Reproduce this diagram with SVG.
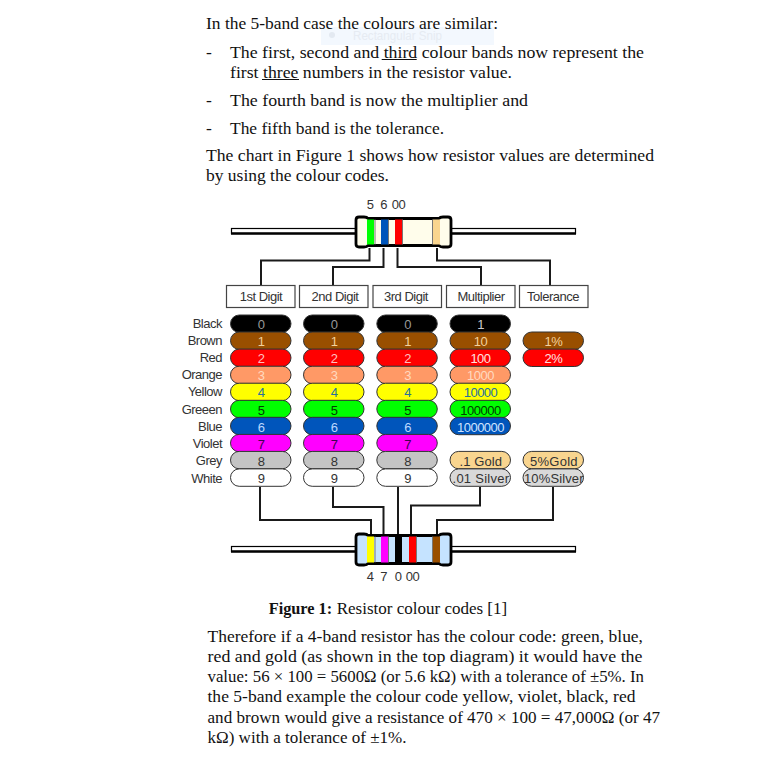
<svg xmlns="http://www.w3.org/2000/svg" width="772" height="768" viewBox="0 0 772 768">
<style>
.b{font-family:"Liberation Serif","DejaVu Serif",serif;font-size:17.5px;fill:#111}
.s{font-family:"Liberation Sans",Arial,sans-serif;font-size:13px;letter-spacing:-.5px;fill:#333}
.m{text-anchor:middle}
.e{text-anchor:end}
.p{stroke:#333;stroke-width:1}
.c{fill:none;stroke:#1a1a1a;stroke-width:2}
.h{fill:#fff;stroke:#444;stroke-width:1.2}
.l{fill:#fff;stroke:#000;stroke-width:1.2}
.bd{stroke:#000;stroke-width:2.8;stroke-linejoin:round}
.u{stroke:#111;stroke-width:1}
.g{stroke:#777;stroke-width:1}
</style>
<rect width="772" height="768" fill="#fff"/>
<g id="snip-overlay">
<rect x="321" y="27" width="173" height="18" fill="#f3f8fe"/>
<circle cx="332" cy="35" r="3" fill="#e3e9f1"/>
<text x="353" y="40" font-family="Liberation Sans,sans-serif" font-size="12" fill="#e6ebf2" textLength="89" lengthAdjust="spacingAndGlyphs">Rectangular Snip</text>
</g>
<g id="top-text">
<text class="b" x="206" y="29" textLength="292" lengthAdjust="spacingAndGlyphs">In the 5-band case the colours are similar:</text>
<text class="b" x="206" y="57.5">-</text>
<text class="b" x="230" y="57.5" textLength="414" lengthAdjust="spacingAndGlyphs">The first, second and third colour bands now represent the</text>
<line class="u" x1="381.7" y1="59.5" x2="416.7" y2="59.5"/>
<text class="b" x="230" y="77.5" textLength="282" lengthAdjust="spacingAndGlyphs">first three numbers in the resistor value.</text>
<line class="u" x1="262" y1="79.5" x2="299" y2="79.5"/>
<text class="b" x="206" y="105.5">-</text>
<text class="b" x="230" y="105.5" textLength="298" lengthAdjust="spacingAndGlyphs">The fourth band is now the multiplier and</text>
<text class="b" x="206" y="133.5">-</text>
<text class="b" x="230" y="133.5" textLength="214" lengthAdjust="spacingAndGlyphs">The fifth band is the tolerance.</text>
<text class="b" x="206" y="160.5" textLength="448" lengthAdjust="spacingAndGlyphs">The chart in Figure 1 shows how resistor values are determined</text>
<text class="b" x="206" y="180.5" textLength="183" lengthAdjust="spacingAndGlyphs">by using the colour codes.</text>
</g>
<g id="connectors">
<path class="c" d="M369.5 248V260.5H261V285"/>
<path class="c" d="M383.5 248V267H333V285"/>
<path class="c" d="M397.5 248V267H481V285"/>
<path class="c" d="M437 248V260.5H550V285"/>
<path class="c" d="M260 487V520H371V534"/>
<path class="c" d="M333 487V507H383.5V534"/>
<path class="c" d="M398 487V534"/>
<path class="c" d="M480 487V505.5H411V534"/>
<path class="c" d="M553 487V520H437V534"/>
</g>
<g id="resistor-top">
<rect class="l" x="231.5" y="228.5" width="344" height="5"/>
<line x1="231" y1="233.5" x2="576" y2="233.5" stroke="#000" stroke-width="2.4"/>
<path class="bd" fill="#fffdeb" d="M359 217H364Q367 217 368 218.5H439Q440 217 443 217H448Q451 217 451 220V244Q451 247 448 247H443Q440 247 439 245.5H368Q367 247 364 247H359Q356 247 356 244V220Q356 217 359 217Z"/>
<rect x="367" y="219.5" width="7" height="25" fill="#0f0"/><line class="g" x1="375" y1="219.5" x2="375" y2="244.5"/>
<rect x="381" y="219.5" width="7" height="25" fill="#0055bb"/><line class="g" x1="388.5" y1="219.5" x2="388.5" y2="244.5"/>
<rect x="395" y="219.5" width="7" height="25" fill="#f00"/><line class="g" x1="402.5" y1="219.5" x2="402.5" y2="244.5"/>
<rect x="433" y="219.5" width="7" height="25" fill="#f9d58f"/><line class="g" x1="432.5" y1="219.5" x2="432.5" y2="244.5"/>
<text class="s m" x="370" y="209">5</text><text class="s m" x="383.5" y="209">6</text><text class="s m" x="398.5" y="209">00</text>
</g>
<g id="header-1st"><rect class="h" x="226.5" y="285.5" width="68.5" height="22"/><text class="s m" x="261" y="300.7">1st Digit</text></g>
<g id="header-2nd"><rect class="h" x="299.5" y="285.5" width="68.5" height="22"/><text class="s m" x="335" y="300.7">2nd Digit</text></g>
<g id="header-3rd"><rect class="h" x="373" y="285.5" width="68.5" height="22"/><text class="s m" x="406" y="300.7">3rd Digit</text></g>
<g id="header-multiplier"><rect class="h" x="446.5" y="285.5" width="68.5" height="22"/><text class="s m" x="481" y="300.7">Multiplier</text></g>
<g id="header-tolerance"><rect class="h" x="519.5" y="285.5" width="68.5" height="22"/><text class="s m" x="553" y="300.7">Tolerance</text></g>
<g id="row-labels">
<text class="s e" x="222" y="327.5">Black</text>
<text class="s e" x="222" y="344.5">Brown</text>
<text class="s e" x="222" y="362">Red</text>
<text class="s e" x="222" y="379">Orange</text>
<text class="s e" x="222" y="396">Yellow</text>
<text class="s e" x="222" y="413.5">Greeen</text>
<text class="s e" x="222" y="430.5">Blue</text>
<text class="s e" x="222" y="448">Violet</text>
<text class="s e" x="222" y="465">Grey</text>
<text class="s e" x="222" y="482.5">White</text>
</g>
<defs>
<rect id="pill" width="60.5" height="17.4" rx="8.7" class="p"/>
</defs>
<g id="col-1st">
<use href="#pill" x="230.5" y="315" fill="#000"/><text class="s m" x="261" y="328.7" style="fill:#999">0</text>
<use href="#pill" x="230.5" y="332" fill="#994f00"/><text class="s m" x="261" y="345.7" style="fill:#f3d29c">1</text>
<use href="#pill" x="230.5" y="349.1" fill="#f00"/><text class="s m" x="261" y="362.8" style="fill:#ffc0c0">2</text>
<use href="#pill" x="230.5" y="366.2" fill="#f96"/><text class="s m" x="261" y="379.9" style="fill:#ffd9c0">3</text>
<use href="#pill" x="230.5" y="383.2" fill="#ff0"/><text class="s m" x="261" y="397" style="fill:#26709f">4</text>
<use href="#pill" x="230.5" y="400.3" fill="#0f0"/><text class="s m" x="261" y="414.5" style="fill:#004000">5</text>
<use href="#pill" x="230.5" y="417.3" fill="#0055bb"/><text class="s m" x="261" y="431.5" style="fill:#bcd8ff">6</text>
<use href="#pill" x="230.5" y="434.4" fill="#f0f"/><text class="s m" x="261" y="448.6" style="fill:#400050">7</text>
<use href="#pill" x="230.5" y="451.4" fill="#c4c4c4"/><text class="s m" x="261" y="465.6" style="fill:#333">8</text>
<use href="#pill" x="230.5" y="468.9" fill="#fff"/><text class="s m" x="261" y="483" style="fill:#333">9</text>
</g>
<g id="col-2nd">
<use href="#pill" x="303.5" y="315" fill="#000"/><text class="s m" x="334" y="328.7" style="fill:#999">0</text>
<use href="#pill" x="303.5" y="332" fill="#994f00"/><text class="s m" x="334" y="345.7" style="fill:#f3d29c">1</text>
<use href="#pill" x="303.5" y="349.1" fill="#f00"/><text class="s m" x="334" y="362.8" style="fill:#ffc0c0">2</text>
<use href="#pill" x="303.5" y="366.2" fill="#f96"/><text class="s m" x="334" y="379.9" style="fill:#ffd9c0">3</text>
<use href="#pill" x="303.5" y="383.2" fill="#ff0"/><text class="s m" x="334" y="397" style="fill:#26709f">4</text>
<use href="#pill" x="303.5" y="400.3" fill="#0f0"/><text class="s m" x="334" y="414.5" style="fill:#004000">5</text>
<use href="#pill" x="303.5" y="417.3" fill="#0055bb"/><text class="s m" x="334" y="431.5" style="fill:#bcd8ff">6</text>
<use href="#pill" x="303.5" y="434.4" fill="#f0f"/><text class="s m" x="334" y="448.6" style="fill:#400050">7</text>
<use href="#pill" x="303.5" y="451.4" fill="#c4c4c4"/><text class="s m" x="334" y="465.6" style="fill:#333">8</text>
<use href="#pill" x="303.5" y="468.9" fill="#fff"/><text class="s m" x="334" y="483" style="fill:#333">9</text>
</g>
<g id="col-3rd">
<use href="#pill" x="376.8" y="315" fill="#000"/><text class="s m" x="407.5" y="328.7" style="fill:#999">0</text>
<use href="#pill" x="376.8" y="332" fill="#994f00"/><text class="s m" x="407.5" y="345.7" style="fill:#f3d29c">1</text>
<use href="#pill" x="376.8" y="349.1" fill="#f00"/><text class="s m" x="407.5" y="362.8" style="fill:#ffc0c0">2</text>
<use href="#pill" x="376.8" y="366.2" fill="#f96"/><text class="s m" x="407.5" y="379.9" style="fill:#ffd9c0">3</text>
<use href="#pill" x="376.8" y="383.2" fill="#ff0"/><text class="s m" x="407.5" y="397" style="fill:#26709f">4</text>
<use href="#pill" x="376.8" y="400.3" fill="#0f0"/><text class="s m" x="407.5" y="414.5" style="fill:#004000">5</text>
<use href="#pill" x="376.8" y="417.3" fill="#0055bb"/><text class="s m" x="407.5" y="431.5" style="fill:#bcd8ff">6</text>
<use href="#pill" x="376.8" y="434.4" fill="#f0f"/><text class="s m" x="407.5" y="448.6" style="fill:#400050">7</text>
<use href="#pill" x="376.8" y="451.4" fill="#c4c4c4"/><text class="s m" x="407.5" y="465.6" style="fill:#333">8</text>
<use href="#pill" x="376.8" y="468.9" fill="#fff"/><text class="s m" x="407.5" y="483" style="fill:#333">9</text>
</g>
<g id="col-multiplier">
<use href="#pill" x="450" y="315" fill="#000"/><text class="s m" x="480.5" y="328.7" style="fill:#ccc">1</text>
<use href="#pill" x="450" y="332" fill="#994f00"/><text class="s m" x="480.5" y="345.7" style="fill:#f3d29c">10</text>
<use href="#pill" x="450" y="349.1" fill="#f00"/><text class="s m" x="480.5" y="362.8" style="fill:#ffe0e0">100</text>
<use href="#pill" x="450" y="366.2" fill="#f96"/><text class="s m" x="480.5" y="379.9" style="fill:#ffd9c0">1000</text>
<use href="#pill" x="450" y="383.2" fill="#ff0"/><text class="s m" x="480.5" y="397" style="fill:#26709f">10000</text>
<use href="#pill" x="450" y="400.3" fill="#0f0"/><text class="s m" x="480.5" y="414.5" style="fill:#004000">100000</text>
<use href="#pill" x="450" y="417.3" fill="#0055bb"/><text class="s m" x="480.5" y="431.5" style="fill:#d0e4ff">1000000</text>
<use href="#pill" x="450" y="451.4" fill="#f9d58f"/><text class="s m" x="480.5" y="465.6" style="fill:#333" textLength="42" lengthAdjust="spacing">.1 Gold</text>
<use href="#pill" x="450" y="468.9" fill="#d9d9d9"/><text class="s m" x="480.5" y="483" style="fill:#333" textLength="56" lengthAdjust="spacing">.01 Silver</text>
</g>
<g id="col-tolerance">
<use href="#pill" x="523" y="332" fill="#994f00"/><text class="s m" x="553.5" y="345.7" style="fill:#f3d29c">1%</text>
<use href="#pill" x="523" y="349.1" fill="#f00"/><text class="s m" x="553.5" y="362.8" style="fill:#ffe0e0">2%</text>
<use href="#pill" x="523" y="451.4" fill="#f9d58f"/><text class="s m" x="553.5" y="465.6" style="fill:#333" textLength="47" lengthAdjust="spacing">5%Gold</text>
<use href="#pill" x="523" y="468.9" fill="#d9d9d9"/><text class="s m" x="553.5" y="483" style="fill:#333" textLength="59" lengthAdjust="spacing">10%Silver</text>
</g>
<g id="resistor-bottom">
<rect class="l" x="231.5" y="546.5" width="344" height="5"/>
<line x1="231" y1="551.5" x2="576" y2="551.5" stroke="#000" stroke-width="2.4"/>
<path class="bd" fill="#c5e3ff" d="M359 534H364Q367 534 368 535.5H439Q440 534 443 534H448Q451 534 451 537V562Q451 565 448 565H443Q440 565 439 563.5H368Q367 565 364 565H359Q356 565 356 562V537Q356 534 359 534Z"/>
<rect x="367" y="536.5" width="7" height="26" fill="#ff0"/><line class="g" x1="375" y1="536.5" x2="375" y2="562.5"/>
<rect x="381" y="536.5" width="7" height="26" fill="#f0f"/><line class="g" x1="388.5" y1="536.5" x2="388.5" y2="562.5"/>
<rect x="395" y="536.5" width="7" height="26" fill="#000"/>
<rect x="409" y="536.5" width="7" height="26" fill="#f00"/><line class="g" x1="416.5" y1="536.5" x2="416.5" y2="562.5"/>
<rect x="433" y="536.5" width="7" height="26" fill="#994f00"/><line class="g" x1="432.5" y1="536.5" x2="432.5" y2="562.5"/>
<text class="s m" x="370" y="580.5">4</text><text class="s m" x="383.5" y="580.5">7</text><text class="s m" x="398" y="580.5">0</text><text class="s m" x="412.5" y="580.5">00</text>
</g>
<g id="bottom-text">
<text class="b" x="268.7" y="614" font-weight="bold" textLength="63.5" lengthAdjust="spacingAndGlyphs">Figure 1:</text>
<text class="b" x="336.7" y="614" textLength="170.5" lengthAdjust="spacingAndGlyphs">Resistor colour codes [1]</text>
<text class="b" x="207.5" y="641.7" textLength="435.5" lengthAdjust="spacingAndGlyphs">Therefore if a 4-band resistor has the colour code: green, blue,</text>
<text class="b" x="207.5" y="661.7" textLength="435" lengthAdjust="spacingAndGlyphs">red and gold (as shown in the top diagram) it would have the</text>
<text class="b" x="207.5" y="681.7" textLength="436.5" lengthAdjust="spacingAndGlyphs">value: 56 × 100 = 5600Ω (or 5.6 kΩ) with a tolerance of ±5%. In</text>
<text class="b" x="207.5" y="702.2" textLength="428" lengthAdjust="spacingAndGlyphs">the 5-band example the colour code yellow, violet, black, red</text>
<text class="b" x="207.5" y="722.7" textLength="452.5" lengthAdjust="spacingAndGlyphs">and brown would give a resistance of 470 × 100 = 47,000Ω (or 47</text>
<text class="b" x="207.5" y="743.2" textLength="199" lengthAdjust="spacingAndGlyphs">kΩ) with a tolerance of ±1%.</text>
</g>
</svg>
